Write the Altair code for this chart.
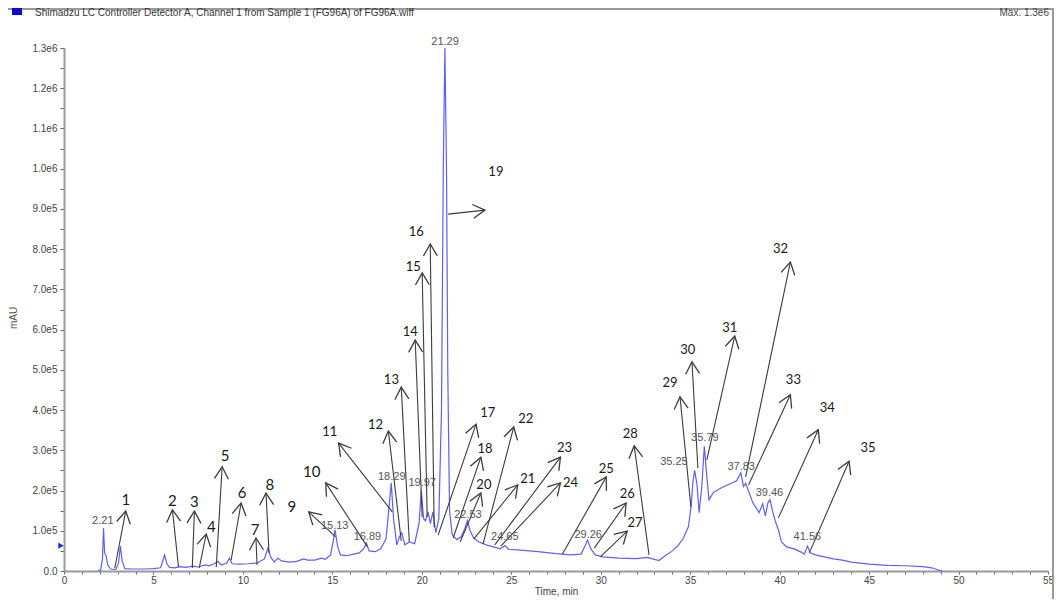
import math
import json
import altair as alt
import pandas as pd

# ---------------- chromatogram trace (time, intensity) ----------------
time_min = [1.90, 2.05, 2.15, 2.21, 2.27, 2.35, 2.45, 2.6, 2.9, 3.05, 3.15, 3.25, 3.4, 3.8, 4.5,
            5.0, 5.4, 5.52, 5.62, 5.75, 5.9, 6.2, 6.5, 6.8, 7.2, 7.5, 7.9, 8.1, 8.4, 8.6, 8.8,
            9.1, 9.25, 9.4, 9.8, 10.3, 10.8, 11.2, 11.4, 11.55, 11.75, 11.95, 12.15, 12.6,
            13.0, 13.4, 13.6, 14.0, 14.4, 14.6, 14.9, 15.05, 15.15, 15.3, 15.45, 15.8, 16.2,
            16.5, 16.75, 16.9, 17.05, 17.4, 17.7, 18.0, 18.15, 18.29, 18.42, 18.6, 18.75,
            18.88, 19.05, 19.3, 19.6, 19.85, 19.97, 20.1, 20.2, 20.35, 20.48, 20.62, 20.78,
            20.95, 21.1, 21.2, 21.29, 21.38, 21.45, 21.55, 21.7, 21.95, 22.2, 22.4, 22.55,
            22.7, 22.9, 23.2, 23.6, 24.0, 24.4, 24.65, 24.85, 25.5, 26.5, 27.5, 28.3, 28.9,
            29.1, 29.26, 29.45, 29.7, 30.1, 31.0, 32.0, 32.6, 33.0, 33.25, 33.6, 34.0, 34.3,
            34.6, 34.9, 35.05, 35.15, 35.25, 35.38, 35.5, 35.65, 35.79, 35.9, 36.05, 36.3,
            36.8, 37.3, 37.6, 37.83, 37.98, 38.1, 38.25, 38.5, 38.85, 39.05, 39.2, 39.35,
            39.46, 39.6, 39.75, 39.95, 40.1, 40.4, 40.8, 41.2, 41.38, 41.56, 41.7, 42.0,
            42.5, 43.0, 43.5, 44.0, 45.0, 46.0, 47.0, 48.0, 48.5, 48.9, 49.1]
intensity = [0, 2000, 30000, 107000, 45000, 38000, 15000, 5000, 4000, 20000, 62000, 25000, 6000,
             5000, 5000, 6000, 8000, 25000, 40000, 18000, 9000, 8000, 11000, 9000, 12000, 10000,
             15000, 13000, 18000, 24000, 15000, 20000, 32000, 18000, 17000, 18000, 20000, 30000,
             57000, 35000, 22000, 32000, 25000, 22000, 24000, 30000, 27000, 27000, 32000, 29000,
             40000, 75000, 102000, 60000, 40000, 38000, 42000, 45000, 55000, 70000, 50000, 48000,
             55000, 80000, 150000, 219000, 130000, 65000, 85000, 95000, 65000, 72000, 68000,
             120000, 200000, 130000, 125000, 147000, 118000, 147000, 95000, 130000, 400000,
             1000000, 1300000, 1000000, 500000, 150000, 90000, 78000, 85000, 105000, 125000,
             100000, 82000, 72000, 65000, 60000, 55000, 63000, 54000, 52000, 48000, 43000, 40000,
             42000, 60000, 77000, 55000, 40000, 35000, 32000, 31000, 34000, 29000, 26000, 38000,
             50000, 62000, 80000, 110000, 160000, 220000, 250000, 215000, 145000, 210000, 310000,
             250000, 177000, 195000, 208000, 218000, 224000, 244000, 210000, 218000, 200000,
             170000, 145000, 167000, 137000, 170000, 177000, 150000, 125000, 100000, 72000, 60000,
             55000, 47000, 42000, 62000, 45000, 40000, 35000, 30000, 27000, 22000, 17000, 14000,
             13000, 11000, 8000, 2000, 0]

# ---------------- retention-time labels ----------------
peak_labels = ["2.21", "15.13", "16.89", "18.29", "19.97", "21.29", "22.53", "24.65", "29.26",
               "35.25", "35.79", "37.83", "39.46", "41.56"]
peak_label_t = [2.17, 15.13, 16.96, 18.32, 20.02, 21.30, 22.58, 24.64, 29.30, 34.09, 35.82,
                37.85, 39.43, 41.55]
peak_label_v = [124000, 112000, 85000, 234000, 218000, 1315000, 139000, 85000, 89000, 271000,
                331000, 259000, 194000, 84000]

# ---------------- numbered arrows ----------------
arrow_ids = [str(i) for i in range(1, 36)]
arrow_start_t = [2.84, 6.40, 7.17, 7.56, 8.51, 9.34, 10.79, 11.46, 15.18, 16.96, 18.35, 18.85,
                 19.30, 20.02, 20.30, 20.69, 20.91, 21.75, 21.47, 22.14, 22.91, 23.42, 24.08,
                 24.42, 27.86, 29.64, 29.98, 32.70, 35.04, 35.43, 35.93, 38.10, 38.26, 39.93,
                 41.66]
arrow_start_v = [7500, 10000, 7500, 7500, 10000, 27000, 15000, 45000, 85000, 60000, 147000,
                 75000, 72000, 134000, 134000, 109000, 89000, 82000, 887000, 72000, 80000,
                 67000, 65000, 62000, 42000, 57000, 35000, 40000, 159000, 256000, 276000,
                 234000, 214000, 132000, 45000]
arrow_tip_t = [3.45, 6.06, 7.29, 7.95, 8.84, 9.90, 10.73, 11.29, 13.68, 14.63, 15.35, 18.13,
               18.85, 19.63, 20.02, 20.47, 23.03, 23.30, 23.53, 23.30, 25.36, 25.14, 27.75,
               27.75, 30.31, 31.42, 31.48, 31.87, 34.43, 35.10, 37.49, 40.60, 40.60, 42.16,
               43.88]
arrow_tip_v = [149000, 152000, 149000, 92000, 259000, 169000, 82000, 194000, 147000, 219000,
               318000, 348000, 457000, 574000, 741000, 813000, 365000, 283000, 897000, 194000,
               214000, 358000, 283000, 219000, 234000, 169000, 99000, 311000, 433000, 520000,
               584000, 768000, 438000, 351000, 273000]
number_t = [3.45, 6.06, 7.29, 8.23, 9.01, 9.96, 10.68, 11.51, 12.74, 13.85, 14.85, 17.41,
            18.30, 19.35, 19.52, 19.69, 23.69, 23.53, 24.14, 23.47, 25.92, 25.81, 27.98, 28.31,
            30.31, 31.48, 31.92, 31.65, 33.87, 34.87, 37.21, 40.05, 40.77, 42.66, 44.94]
number_v = [177000, 174000, 172000, 109000, 286000, 194000, 102000, 214000, 159000, 246000,
            346000, 363000, 475000, 594000, 756000, 843000, 393000, 303000, 992000, 214000,
            229000, 378000, 306000, 219000, 254000, 191000, 119000, 341000, 467000, 549000,
            604000, 800000, 475000, 405000, 306000]

# axis tick labels
x_tick_values = list(range(0, 56))
y_tick_values = list(range(0, 1300001, 50000))
y_tick_labels = ["0.0", "1.0e5", "2.0e5", "3.0e5", "4.0e5", "5.0e5", "6.0e5", "7.0e5",
                 "8.0e5", "9.0e5", "1.0e6", "1.1e6", "1.2e6", "1.3e6"]

title_text = "Shimadzu LC Controller Detector A, Channel 1 from Sample 1 (FG96A) of FG96A.wiff"
max_text = "Max. 1.3e6"
y_title_text = "mAU"
baseline_marker_v = [63000]

# ---------------- geometry ----------------
W, H = 984, 523
X_MAX, Y_MAX = 55, 1300000
px_t = W / X_MAX
px_v = H / Y_MAX

angles = []
for st, sv, tt, tv in zip(arrow_start_t, arrow_start_v, arrow_tip_t, arrow_tip_v):
    dx = (tt - st) * px_t
    dy = (tv - sv) * px_v
    angles.append(math.degrees(math.atan2(dx, dy)) % 360)

trace_df = pd.DataFrame({"t": time_min, "v": intensity})
peak_df = pd.DataFrame({"t": peak_label_t, "v": peak_label_v, "label": peak_labels})
arrow_df = pd.DataFrame({
    "id": arrow_ids, "t0": arrow_start_t, "v0": arrow_start_v,
    "t1": arrow_tip_t, "v1": arrow_tip_v, "angle": angles,
    "nt": number_t, "nv": number_v,
})
arrow_df["n"] = range(1, 36)

xscale = alt.Scale(domain=[0, X_MAX], nice=False, zero=False)
yscale = alt.Scale(domain=[0, Y_MAX], nice=False)

label_font = "Liberation Sans"
axis_grey = "#444444"

x_axis = alt.Axis(values=x_tick_values,
                  labelExpr="datum.value % 5 === 0 ? datum.label : ''",
                  title="Time, min", titleFontWeight="normal", titleFontSize=10,
                  titleFont=label_font, titleColor=axis_grey, titlePadding=1,
                  labelFont=label_font, labelFontSize=10, labelColor=axis_grey,
                  labelPadding=1, tickSize=3, tickColor="#666666", domainColor="#999999",
                  domainWidth=2, grid=False, labelFlush=False, labelOverlap=False,
                  labelBound=False)
y_axis = alt.Axis(values=y_tick_values,
                  labelExpr="datum.value % 100000 === 0 ? " + json.dumps(y_tick_labels)
                  + "[round(datum.value / 100000)] : ''",
                  title=None, labelFont=label_font, labelFontSize=10, labelColor=axis_grey,
                  labelPadding=3, tickSize=4, tickColor="#666666", domainColor="#999999",
                  domainWidth=2, grid=False, labelFlush=False, labelOverlap=False)


def X(field):
    return alt.X(field, scale=xscale, axis=x_axis)


def Y(field):
    return alt.Y(field, scale=yscale, axis=y_axis)


trace = alt.Chart(trace_df).mark_line(color="#5f5ff5", strokeWidth=1.2).encode(
    x=X("t:Q"), y=Y("v:Q"))

arrow_lines = alt.Chart(arrow_df).mark_rule(color="#3c3c3c", strokeWidth=1.1).encode(
    x=X("t0:Q"), y=Y("v0:Q"), x2="t1:Q", y2="v1:Q")

arrow_heads = alt.Chart(arrow_df).mark_point(
    shape="M-0.55,0.95L0,0L0.55,0.95", filled=False, size=640,
    color="#3c3c3c", strokeWidth=1.3, opacity=1).encode(
    x=X("t1:Q"), y=Y("v1:Q"), angle=alt.Angle("angle:Q", scale=None))

numbers_big = alt.Chart(arrow_df).transform_filter("datum.n <= 10").mark_text(
    font="Lato", fontSize=15, color="#1a1a1a").encode(x=X("nt:Q"), y=Y("nv:Q"), text="id:N")
numbers_small = alt.Chart(arrow_df).transform_filter("datum.n > 10").mark_text(
    font="Lato", fontSize=13, color="#1a1a1a").encode(x=X("nt:Q"), y=Y("nv:Q"), text="id:N")

peaks = alt.Chart(peak_df).mark_text(font=label_font, fontSize=11, color="#555555").encode(
    x=X("t:Q"), y=Y("v:Q"), text="label:N")

deco_df = pd.DataFrame({"k": [0]})
base = alt.Chart(deco_df)
top_line = base.mark_rule(color="#9a9a9a", strokeWidth=2).encode(
    x=alt.value(-56), x2=alt.value(990), y=alt.value(-39))
right_line = base.mark_rule(color="#9a9a9a", strokeWidth=2).encode(
    x=alt.value(989), y=alt.value(-39), y2=alt.value(565))
square = base.mark_rect(color="#0a0ad0").encode(
    x=alt.value(-52), x2=alt.value(-42), y=alt.value(-40), y2=alt.value(-33))
title_mark = base.mark_text(align="left", baseline="middle", font=label_font, fontSize=10,
                            color="#333333").encode(
    x=alt.value(-29), y=alt.value(-35), text=alt.value(title_text))
max_mark = base.mark_text(align="right", baseline="middle", font=label_font, fontSize=10,
                          color="#444444").encode(
    x=alt.value(985), y=alt.value(-35), text=alt.value(max_text))
y_title = base.mark_text(angle=270, baseline="middle", font=label_font, fontSize=10,
                         color="#555555").encode(
    x=alt.value(-50), y=alt.value(270), text=alt.value(y_title_text))
marker = alt.Chart(pd.DataFrame({"v": baseline_marker_v})).mark_point(
    shape="triangle-right", filled=True, size=40, color="#2030d0", opacity=1).encode(
    x=alt.value(-3), y=Y("v:Q"))

chart = alt.layer(
    trace, arrow_lines, arrow_heads, numbers_big, numbers_small, peaks,
    top_line, right_line, square, title_mark, max_mark, y_title, marker
).properties(
    width=W, height=H,
    autosize=alt.AutoSizeParams(type="none"),
    padding={"left": 56, "top": 40, "right": 6, "bottom": 28},
    background="white",
).configure_view(stroke=None)

chart.save("out.html", embed_options={"renderer": "svg", "actions": False})
